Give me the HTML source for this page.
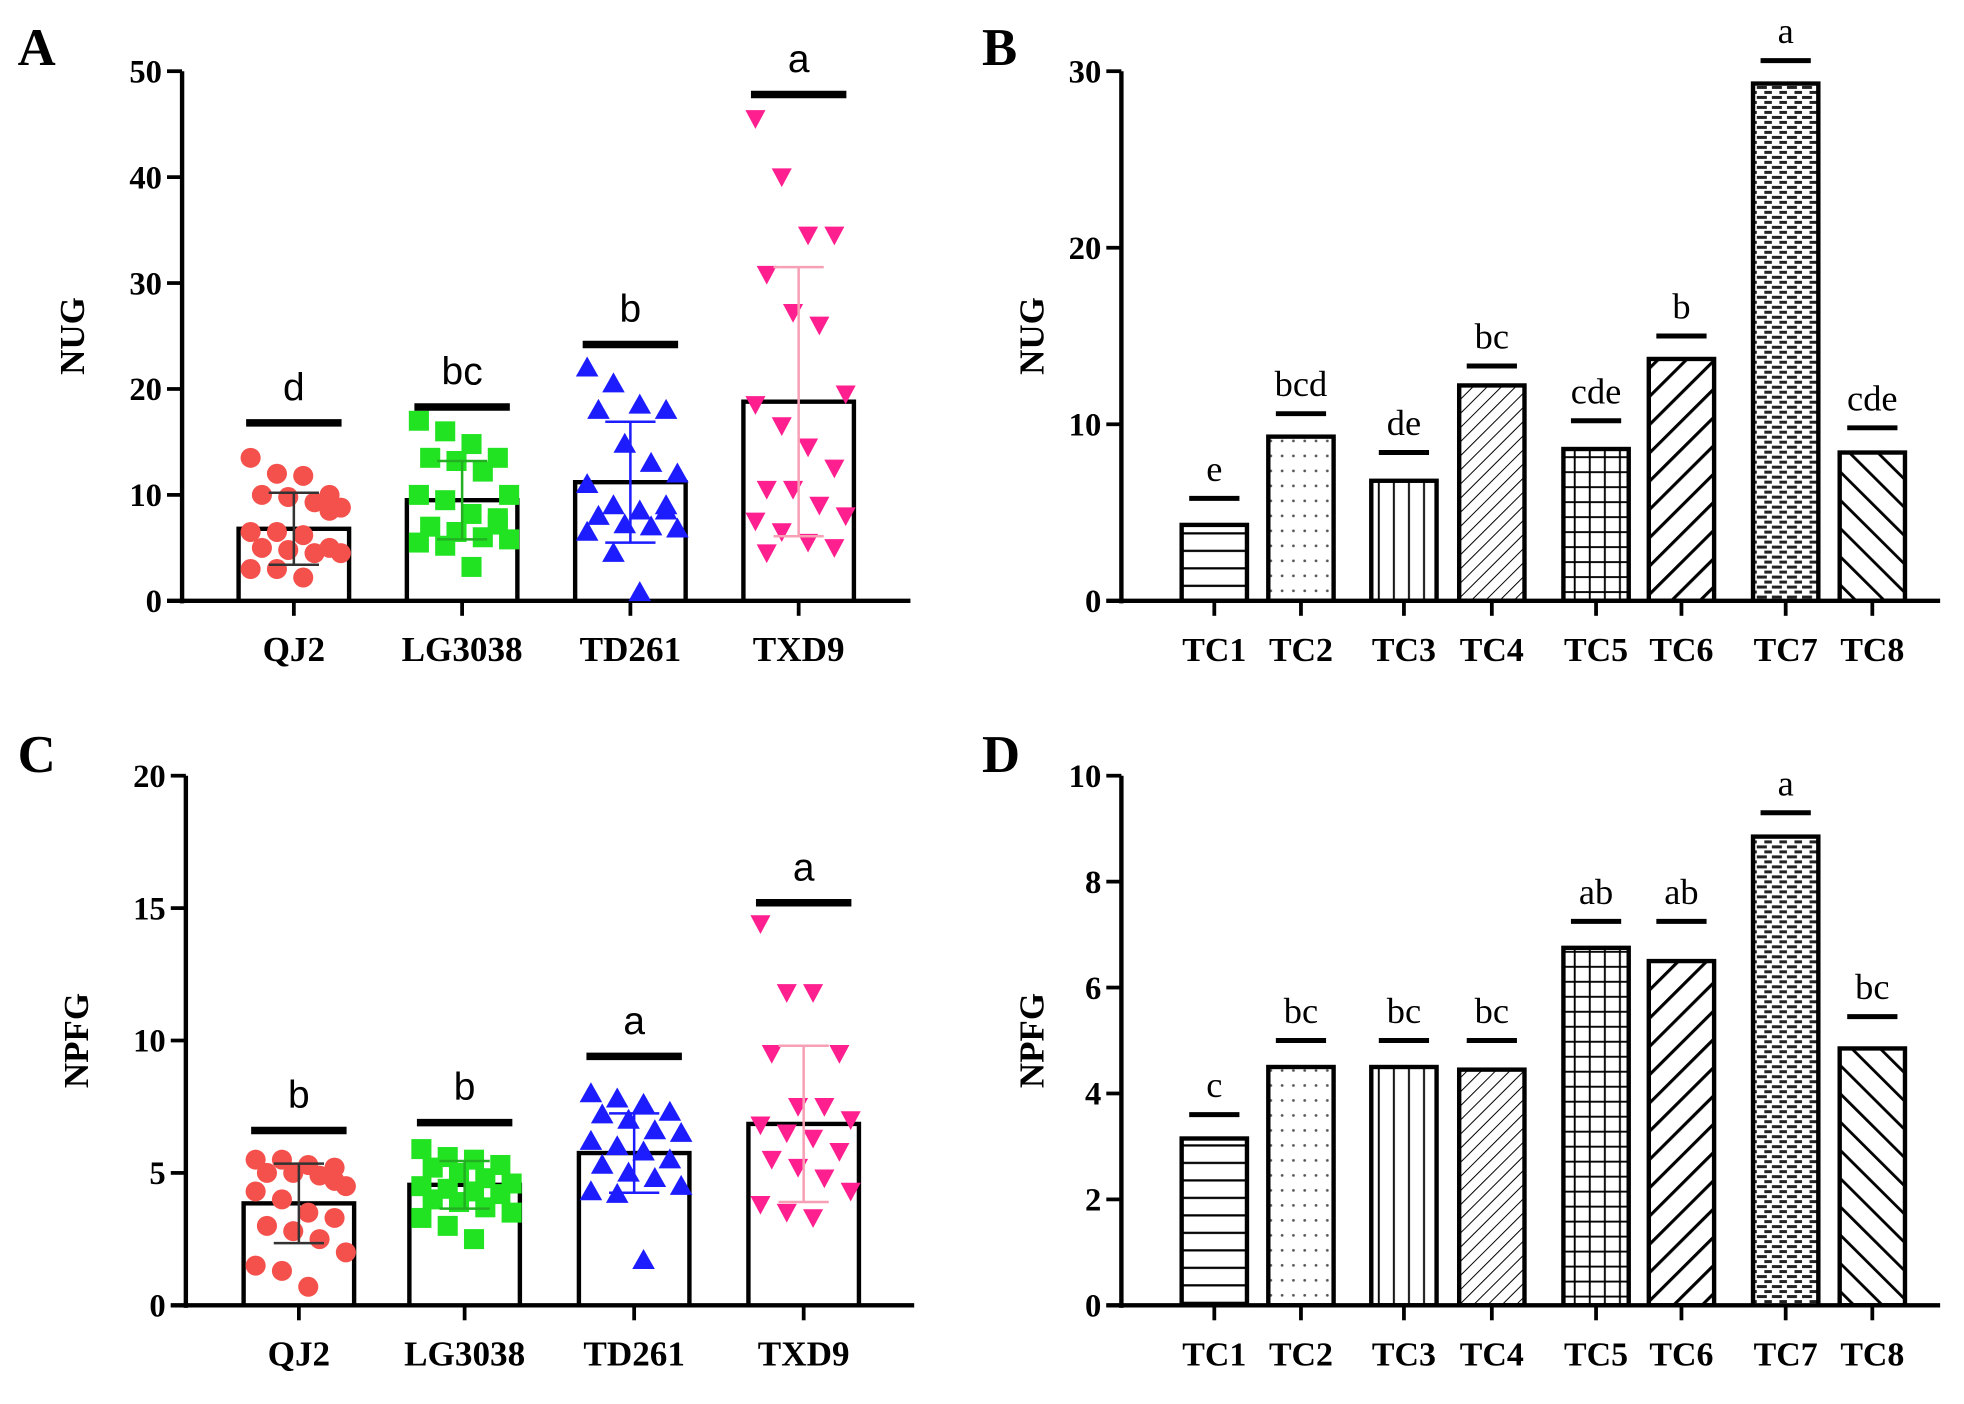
<!DOCTYPE html>
<html><head><meta charset="utf-8"><style>
html,body{margin:0;padding:0;background:#fff;}
svg{display:block;}
</style></head><body>
<svg id="fig" width="1964" height="1404" viewBox="0 0 1564 1124" preserveAspectRatio="none" xmlns="http://www.w3.org/2000/svg">
<defs>
<pattern id="p-h" patternUnits="userSpaceOnUse" width="10" height="14"><line x1="0" y1="7" x2="10" y2="7" stroke="#000" stroke-width="1.8"/></pattern>
<pattern id="p-dot" patternUnits="userSpaceOnUse" width="9" height="12"><circle cx="4" cy="5" r="1.1" fill="#555"/></pattern>
<pattern id="p-v" patternUnits="userSpaceOnUse" width="12" height="10"><line x1="6" y1="0" x2="6" y2="10" stroke="#000" stroke-width="1.5"/></pattern>
<pattern id="p-d1" patternUnits="userSpaceOnUse" width="8" height="8" patternTransform="rotate(45)"><line x1="0" y1="0" x2="0" y2="8" stroke="#000" stroke-width="1.6"/></pattern>
<pattern id="p-grid" patternUnits="userSpaceOnUse" width="12" height="12"><line x1="6" y1="0" x2="6" y2="12" stroke="#000" stroke-width="1.5"/><line x1="0" y1="6" x2="12" y2="6" stroke="#000" stroke-width="1.5"/></pattern>
<pattern id="p-d2" patternUnits="userSpaceOnUse" width="16" height="16" patternTransform="rotate(45)"><line x1="0" y1="0" x2="0" y2="16" stroke="#000" stroke-width="5"/></pattern>
<pattern id="p-brick" patternUnits="userSpaceOnUse" width="12" height="8"><rect width="12" height="8" fill="#fff"/><line x1="1" y1="2" x2="7" y2="2" stroke="#222" stroke-width="2.4"/><line x1="7" y1="6" x2="12" y2="6" stroke="#222" stroke-width="2.4"/><line x1="0" y1="6" x2="3" y2="6" stroke="#222" stroke-width="2.4"/></pattern>
<pattern id="p-d3" patternUnits="userSpaceOnUse" width="16" height="16" patternTransform="rotate(-45)"><line x1="0" y1="0" x2="0" y2="16" stroke="#000" stroke-width="4.5"/></pattern>
</defs>
</svg>
<script>
// ---- Data ----
const groupCats = ["QJ2","LG3038","TD261","TXD9"];
const nugMeans = [6.8, 9.5, 11.2, 18.8];
const nugSD = [3.4, 3.7, 5.7, 12.7];
const nugSig = ["d","bc","b","a"];
const nugSigLevel = [16.8, 18.3, 24.2, 47.8];
const nugQJ2 = [13.5,12,11.8,10,10,9.8,9.3,8.8,6.5,6.5,6.2,5,5,4.8,4.5,4.5,3,3,2.2,8.5];
const nugLG3038 = [17,16,14.8,13.5,13.5,13.2,12.2,10,10,9.5,8.2,7.2,7,6.5,6,5.8,5.5,5.2,3.2,7.8];
const nugTD261 = [22,20.5,18.5,18,18,14.8,13,12,11,9,8.5,8.5,8,7.2,7,6.8,6.5,4.5,0.8,9];
const nugTXD9 = [45.5,40,34.5,34.5,30.8,27.2,26,19.5,18.5,16.5,14.5,12.5,10.5,10.5,9,8,7.5,6.5,5.5,5,4.5];
const npfgMeans = [3.85, 4.55, 5.75, 6.85];
const npfgSD = [1.5, 0.9, 1.5, 2.95];
const npfgSig = ["b","b","a","a"];
const npfgSigLevel = [6.6, 6.9, 9.4, 15.2];
const npfgQJ2 = [5.5,5.5,5.3,5.2,5.0,5.0,4.9,4.5,4.3,4.0,3.5,3.3,3.0,2.8,2.5,2.0,1.5,1.3,0.7,4.7];
const npfgLG3038 = [5.9,5.6,5.5,5.3,5.2,5.0,4.8,4.6,4.5,4.4,4.3,4.2,4.0,3.9,3.7,3.5,3.3,3.0,2.5];
const npfgTD261 = [8.0,7.8,7.6,7.3,7.2,7.0,6.6,6.5,6.2,6.0,5.8,5.5,5.3,5.0,4.8,4.5,4.3,4.2,1.7];
const npfgTXD9 = [14.4,11.8,11.8,9.5,9.5,7.5,7.5,7.0,6.8,6.5,6.3,5.8,5.5,5.2,4.8,4.3,3.8,3.5,3.3];
const tcCats = ["TC1","TC2","TC3","TC4","TC5","TC6","TC7","TC8"];
const tcNug = [4.3, 9.3, 6.8, 12.2, 8.6, 13.7, 29.3, 8.4];
const tcNugSig = ["e","bcd","de","bc","cde","b","a","cde"];
const tcNugSigLevel = [5.8, 10.6, 8.4, 13.3, 10.2, 15.0, 30.6, 9.8];
const tcNpfg = [3.15, 4.5, 4.5, 4.45, 6.75, 6.5, 8.85, 4.85];
const tcNpfgSig = ["c","bc","bc","bc","ab","ab","a","bc"];
const tcNpfgSigLevel = [3.6, 5.0, 5.0, 5.0, 7.25, 7.25, 9.3, 5.45];
const nugTicks = [0,10,20,30,40,50];
const npfgTicks = [0,5,10,15,20];
const tcNugTicks = [0,10,20,30];
const tcNpfgTicks = [0,2,4,6,8,10];

const NS="http://www.w3.org/2000/svg";
const svg=document.getElementById('fig');
function mk(tag,attrs,parent,text){const e=document.createElementNS(NS,tag);for(const k in attrs)e.setAttribute(k,attrs[k]);if(text!==undefined)e.textContent=text;(parent||svg).appendChild(e);return e;}

function axes(g,x0,y0,yTop,xEnd,ticks,ymax,yTitle,label,labelX,labelY,titleX){
  const ys=v=>y0-(v/ymax)*(y0-yTop);
  const ya=mk('line',{x1:x0,y1:y0+2,x2:x0,y2:yTop,stroke:'#000','stroke-width':3.5},g);
  
  const xa=mk('line',{x1:x0-12,y1:y0,x2:xEnd,y2:y0,stroke:'#000','stroke-width':3.5},g);
  
  ticks.forEach(t=>{
    mk('line',{x1:x0-12,y1:ys(t),x2:x0,y2:ys(t),stroke:'#000','stroke-width':3},g);
    const tl=mk('text',{x:x0-16,y:ys(t)+9,'text-anchor':'end','font-family':'Liberation Serif, serif','font-weight':'bold','font-size':26},g,String(t));
    
  });
  const yt=mk('text',{x:0,y:0,transform:`translate(${titleX},${(y0+yTop)/2}) rotate(-90)`,'text-anchor':'middle','font-family':'Liberation Serif, serif','font-weight':'bold','font-size':28},g,yTitle);
  
  const pl=mk('text',{x:labelX,y:labelY,'font-family':'Liberation Serif, serif','font-weight':'bold','font-size':42},g,label);
  
  return ys;
}

function scatterPanel(name,x0,y0,yTop,xEnd,ticks,ymax,yTitle,label,lx,ly,centers,means,sds,sig,sigLv,pts,bw){
  const g=mk('g',{});
  
  const ys=axes(g,x0,y0,yTop,xEnd,ticks,ymax,yTitle,label,lx,ly,x0-78);
  const colors=['#f4504c','#22e322','#1c1cff','#ff1f8f'];
  const ebColors=['#333','#22b022','#1c1cff','#f7a0b5'];
  centers.forEach((cx,i)=>{
    const b=mk('rect',{x:cx-bw/2,y:ys(means[i]),width:bw,height:y0-ys(means[i]),fill:'#fff',stroke:'#000','stroke-width':3.5},g);
    
    mk('line',{x1:cx,y1:y0,x2:cx,y2:y0+12,stroke:'#000','stroke-width':3},g);
    const xl=mk('text',{x:cx,y:y0+48,'text-anchor':'middle','font-family':'Liberation Serif, serif','font-weight':'bold','font-size':28},g,groupCats[i]);
    
    const p=pts[i];
    p.forEach((v,j)=>{
      const col=j%4, off=(col-1.5)*(bw/4.2)+((j>>2)%2?6:-3);
      const px=cx+off, py=ys(v);
      let m;
      if(i===0) m=mk('circle',{cx:px,cy:py,r:8,fill:colors[0]},g);
      else if(i===1) m=mk('rect',{x:px-8,y:py-8,width:16,height:16,fill:colors[1]},g);
      else if(i===2) m=mk('polygon',{points:`${px},${py-9} ${px-9},${py+7} ${px+9},${py+7}`,fill:colors[2]},g);
      else m=mk('polygon',{points:`${px-8},${py-7} ${px+8},${py-7} ${px},${py+8}`,fill:colors[3]},g);
      
    });
    const hi=ys(means[i]+sds[i]),lo=ys(Math.max(0,means[i]-sds[i]));
    const eb=mk('path',{d:`M${cx},${hi}V${lo}M${cx-20},${hi}H${cx+20}M${cx-20},${lo}H${cx+20}`,stroke:ebColors[i],'stroke-width':2,fill:'none'},g);
    
    const sl=mk('line',{x1:cx-38,y1:ys(sigLv[i]),x2:cx+38,y2:ys(sigLv[i]),stroke:'#000','stroke-width':6},g);
    
    const st=mk('text',{x:cx,y:ys(sigLv[i])-18,'text-anchor':'middle','font-family':'Liberation Sans, sans-serif','font-size':31},g,sig[i]);
    
  });
}

function patternPanel(name,x0,y0,yTop,xEnd,ticks,ymax,yTitle,label,lx,ly,vals,sig,sigLv){
  const g=mk('g',{});
  
  const ys=axes(g,x0,y0,yTop,xEnd,ticks,ymax,yTitle,label,lx,ly,x0-62);
  const centers=[967,1036,1118,1188,1271,1339,1422,1491];
  const pats=['p-h','p-dot','p-v','p-d1','p-grid','p-d2','p-brick','p-d3'];
  const bw=52;
  vals.forEach((v,i)=>{
    const cx=centers[i];
    const b=mk('rect',{x:cx-bw/2,y:ys(v),width:bw,height:y0-ys(v),fill:'url(#'+pats[i]+')',stroke:'#000','stroke-width':3.5},g);
    
    mk('line',{x1:cx,y1:y0,x2:cx,y2:y0+12,stroke:'#000','stroke-width':3},g);
    const xl=mk('text',{x:cx,y:y0+48,'text-anchor':'middle','font-family':'Liberation Serif, serif','font-weight':'bold','font-size':27},g,tcCats[i]);
    
    const sl=mk('line',{x1:cx-20,y1:ys(sigLv[i]),x2:cx+20,y2:ys(sigLv[i]),stroke:'#000','stroke-width':4},g);
    
    const st=mk('text',{x:cx,y:ys(sigLv[i])-14,'text-anchor':'middle','font-family':'Liberation Serif, serif','font-size':29},g,sig[i]);
    
  });
}

scatterPanel('panel-a-nug-scatter',145,481,57,725,nugTicks,50,'NUG','A',14,52,[234,368,502,636],nugMeans,nugSD,nugSig,nugSigLevel,[nugQJ2,nugLG3038,nugTD261,nugTXD9],88);
scatterPanel('panel-c-npfg-scatter',148,1045,621,728,npfgTicks,20,'NPFG','C',14,618,[238,370,505,640],npfgMeans,npfgSD,npfgSig,npfgSigLevel,[npfgQJ2,npfgLG3038,npfgTD261,npfgTXD9],88);
patternPanel('panel-b-nug-bars',893,481,57,1545,tcNugTicks,30,'NUG','B',782,52,tcNug,tcNugSig,tcNugSigLevel);
patternPanel('panel-d-npfg-bars',893,1045,621,1545,tcNpfgTicks,10,'NPFG','D',782,618,tcNpfg,tcNpfgSig,tcNpfgSigLevel);
</script>
</body></html>
